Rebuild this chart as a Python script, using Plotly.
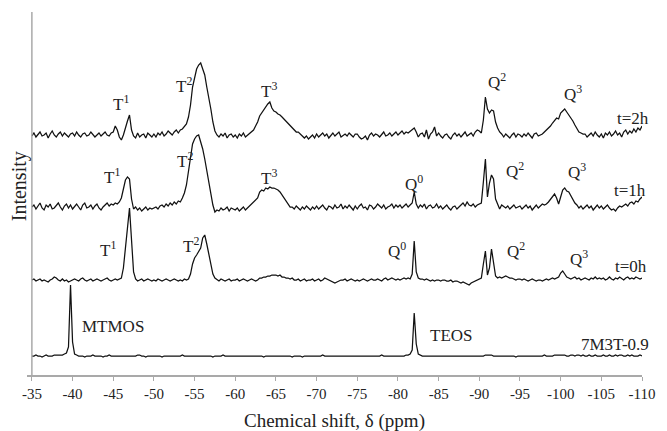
import numpy as np
import plotly.graph_objects as go

# Chemical shift grid (ppm): -35 to -110 in 0.25 ppm steps (301 points)
shift_start = -35.0
shift_step = -0.25

# Intensities above each spectrum's own baseline, 20 points (5 ppm) per row
ref_7m3t = [
    0, 0, 1, 0, 0, -1, 0, 1, 0, 0, 0, 1, 1, 1, 1, 1, 2, 3, 9, 71,
    14, 2, 1, 0, 0, 0, -1, 0, 0, 0, 1, 0, 0, 0, 0, -1, 0, 0, 1, 0,
    0, 0, 0, 0, 0, 0, 0, 0, 0, 0, 0, 0, 1, 1, 0, 0, -1, 0, 0, 0,
    0, 0, 0, 0, -1, 0, 0, 0, 0, 0, 0, 0, 0, 0, 1, 0, 0, 0, 0, 0,
    0, 0, 0, 0, 0, 0, 0, 0, 0, -1, 0, 0, 0, 0, 1, 0, 0, 0, 0, 0,
    0, 0, 0, 0, 0, 0, 0, 0, 0, 0, 0, 0, 0, 0, -1, 0, 0, 0, 0, 0,
    0, 0, 0, 0, 0, 0, 0, 0, -1, 0, 0, 0, 0, -1, 0, 0, 0, 0, 0, 0,
    0, 0, 0, 1, 0, 0, 0, 0, 0, 0, 0, 0, 0, 0, 0, 0, 0, 0, 0, 0,
    0, 0, 0, 0, 0, 0, 0, 0, 0, 0, 0, 0, 1, 0, 0, 0, 0, 0, 0, 0,
    0, 0, 0, 0, 1, 1, 2, 6, 43, 12, 2, 1, 0, 0, 0, 0, 0, 0, 0, 0,
    0, 0, 0, 0, 0, 0, 0, 0, 0, 0, 0, 0, 0, 0, 0, 0, 0, 0, 0, 0,
    0, 0, 0, 1, 1, 1, 1, 0, 0, 0, 0, 0, 0, 0, 0, 0, 0, 0, -1, 0,
    0, 0, 0, 0, 0, 0, 0, 0, 0, 0, 0, 0, 1, 0, 0, 0, 0, 1, 1, 1,
    1, 1, 1, 0, 0, 1, 1, 0, 1, 1, 0, 1, 0, 0, 1, 0, 0, 1, 0, 0,
    0, 1, 0, 0, 1, 0, 0, 1, 0, 1, 1, 0, 0, 1, 0, 1, 0, 0, 0, 1,
    0,
]

t_0h = [
    0, 1, -1, 0, 1, -1, 0, -1, -2, 0, 1, 3, 2, 0, -1, 1, -1, 0, -2, -1,
    0, 1, 0, -1, 1, 2, 0, -1, 0, 1, -1, 0, 1, 0, -1, 0, 1, 2, 0, -1,
    0, 1, 0, 1, 2, 12, 30, 50, 72, 40, 8, 1, -1, 0, 1, -1, 0, 1, 0, -1,
    0, -1, 1, 0, -1, 0, 1, 0, -1, 0, 1, 0, -1, 0, -1, 1, 0, 1, 6, 16,
    22, 25, 28, 32, 42, 45, 36, 26, 15, 6, 2, 0, -1, 1, 0, -1, 0, 1, -1, 0,
    0, 1, -1, 0, 1, 0, -1, 0, 1, 0, -1, 0, 2, 2, 3, 3, 4, 4, 5, 5,
    5, 4, 5, 3, 3, 2, 2, 1, 2, 0, 0, 1, -1, 0, 1, -1, 0, 0, 1, -1,
    0, 1, -1, 0, 2, 1, 0, -1, -2, -3, -2, -1, 0, 0, 1, -1, 0, 1, 0, -1,
    0, -1, 0, 1, 0, -1, 0, 1, 0, 0, 1, 0, -1, 1, 2, 0, 1, 2, 1, 0,
    1, 0, 1, 2, 1, 2, 1, 6, 39, 8, 2, 1, 1, 0, 1, 0, -1, 0, -1, 0,
    0, -1, 0, 0, -1, -1, 0, -2, -1, -1, -2, -3, -2, -3, -4, -5, -3, -2, -1, 0,
    1, 2, 16, 29, 5, 12, 31, 18, 4, 2, 3, 2, 3, 4, 3, 2, 2, 1, 0, 1,
    1, 0, 1, 0, -1, 0, 1, 0, -1, 0, 0, -1, 0, 1, 0, 1, 2, 1, 2, 3,
    7, 9, 6, 3, 2, 1, 2, 3, 1, 2, 0, 1, 2, 1, 0, 2, 1, 3, 1, 2,
    1, 2, 0, 1, 3, 1, 0, 2, 1, 3, 1, 0, 2, 3, 1, 2, 1, 3, 2, 1,
    2,
]

t_1h = [
    0, 2, -2, 1, 4, -1, -3, 2, 0, 3, -2, -1, 2, 4, 0, -3, 1, 3, -1, 2,
    -2, 1, 3, 0, -3, 2, 4, -1, 0, 2, -2, 1, 3, -1, -3, 0, 2, 4, 1, 3,
    2, 4, 3, 5, 9, 20, 27, 30, 28, 8, -2, 0, -3, -1, -4, -2, 0, -3, -1, -2,
    -1, 0, -2, 1, 2, 0, 3, 1, 4, 2, 5, 3, 6, 5, 9, 14, 22, 36, 52, 63,
    68, 71, 72, 66, 58, 48, 37, 24, 12, 2, -5, -3, -4, -1, -3, -2, 0, -4, -1, -2,
    -3, -1, -4, -2, 0, -3, -1, 1, 2, 5, 6, 9, 15, 17, 16, 19, 18, 20, 19, 19,
    18, 17, 15, 12, 9, 6, 3, 0, 0, -2, 1, -1, -3, 0, -2, 1, -1, -3, 0, -2,
    1, -2, 0, 2, -1, -3, 1, 0, -2, 2, -1, 0, 3, -2, 1, -1, 2, 0, -3, 1,
    -2, 1, 3, -1, 0, -3, 2, 1, -2, 0, 3, 1, -1, 2, -2, 0, 1, 3, -1, 2,
    0, 2, -1, 1, 3, 0, 2, 4, 15, 3, -1, 2, 0, 3, -2, 1, 2, -1, 0, 3,
    -1, 1, -2, 0, 2, -1, -3, 0, 1, -2, 0, 2, 4, 1, 5, 2, 1, 3, 0, 2,
    3, 4, 25, 48, 10, 24, 32, 28, 8, 2, -2, 2, 0, -1, 1, -2, 0, 2, -1, 0,
    1, -2, 0, 2, -1, 1, -3, 0, 2, -1, 1, 3, 2, 3, 5, 8, 10, 13, 9, 3,
    10, 17, 19, 16, 15, 11, 7, 4, 2, -1, 1, -2, 0, 2, -1, 1, -3, 0, 2, -1,
    1, -2, 0, 2, -1, -3, -2, -4, -1, 1, 0, 2, 3, 1, 4, 5, 3, 6, 5, 8,
    10,
]

t_2h = [
    -1, 2, -2, 1, 3, -1, 0, 2, -3, 1, 4, 0, -2, 1, 3, -1, 2, 0, -2, 1,
    2, -1, 3, 0, -2, 1, 2, -1, 0, 3, 1, -2, 0, 2, -1, 1, 3, 0, -1, 2,
    3, 9, 5, -2, -5, 0, 8, 14, 20, 5, -1, -3, 2, -2, 0, 1, -3, 2, 0, -2,
    1, -2, 2, 0, 3, -1, 1, 4, 2, 0, 3, 5, 2, 5, 6, 8, 11, 18, 30, 48,
    58, 66, 70, 72, 66, 60, 48, 38, 26, 13, 4, 0, -2, 1, -1, 2, -3, 0, 1, -2,
    0, -3, 1, -1, 2, -2, 0, 1, 3, 5, 9, 13, 19, 22, 26, 28, 31, 33, 27, 24,
    23, 21, 20, 18, 16, 14, 12, 9, 8, 6, 3, 3, 1, 0, -3, -1, -4, -2, 0, -3,
    1, -2, 0, 2, -1, 1, -3, 0, 2, -1, 1, 3, -2, 0, 1, -1, 2, 0, -2, 1,
    1, -2, -4, -3, -1, -5, 0, 2, -1, 1, 0, -2, 1, 3, -1, 0, 2, -1, 1, 3,
    0, 2, 4, 1, 3, 2, 4, 5, 7, 3, -2, 1, 2, -2, 5, -4, 1, 3, 8, -1,
    2, -1, -3, 0, 1, -2, -4, 0, 2, -1, 1, -2, 0, 3, -1, 1, 2, -1, 3, 5,
    4, 2, 15, 38, 26, 22, 25, 24, 13, 7, 3, 1, -2, 1, -1, -3, 0, 2, -2, 1,
    0, -2, 1, -1, 2, 0, -3, 1, 2, -1, 0, 1, 3, 5, 6, 9, 12, 14, 17, 16,
    22, 24, 26, 23, 20, 18, 14, 10, 6, 3, 2, 1, 1, -2, 0, 2, -1, 3, 0, -2,
    1, -3, 2, 0, 3, -1, 1, 4, 0, 2, -2, 3, 5, 1, 4, 2, 6, 3, 7, 5,
    9,
]

# Stacked spectra: name, intensities, vertical offset of the baseline
spectra = [
    ("7M3T-0.9", ref_7m3t, 19),
    ("t=0h", t_0h, 95),
    ("t=1h", t_1h, 168),
    ("t=2h", t_2h, 240),
]

# Peak labels: text, shift (ppm), height on the stacked scale
labels = [
    ("T<sup>1</sup>", -45.9, 272), ("T<sup>2</sup>", -53.7, 290),
    ("T<sup>3</sup>", -64.15, 285), ("Q<sup>2</sup>", -92.15, 294),
    ("Q<sup>3</sup>", -101.5, 282.5), ("t=2h", -108.9, 257),
    ("T<sup>1</sup>", -44.9, 199), ("T<sup>2</sup>", -53.8, 215),
    ("T<sup>3</sup>", -64.15, 198.5), ("Q<sup>0</sup>", -81.95, 192.5),
    ("Q<sup>2</sup>", -94.4, 205.5), ("Q<sup>3</sup>", -101.95, 204.5),
    ("t=1h", -108.5, 185),
    ("T<sup>1</sup>", -44.3, 126.5), ("T<sup>2</sup>", -54.6, 130),
    ("Q<sup>0</sup>", -79.85, 125.5), ("Q<sup>2</sup>", -94.5, 125),
    ("Q<sup>3</sup>", -102.3, 117.5), ("t=0h", -108.7, 108.5),
    ("MTMOS", -45.0, 49), ("TEOS", -86.6, 39.5), ("7M3T-0.9", -106.7, 31),
]

tick_vals = list(range(-35, -111, -5))
tick_text = [str(v) for v in tick_vals]

SERIF = "Liberation Serif, Times New Roman, serif"
AXIS_GREY = "#a9a9a9"

fig = go.Figure()
for name, vals, offset in spectra:
    vals = np.asarray(vals, dtype=float)
    shifts = shift_start + shift_step * np.arange(len(vals))
    fig.add_trace(go.Scatter(
        x=shifts, y=vals + offset, mode="lines", name=name,
        line=dict(color="#111111", width=1.25), hoverinfo="skip",
    ))

annotations = [
    dict(x=x, y=y, xref="x", yref="y", text=t, showarrow=False,
         xanchor="center", yanchor="middle",
         font=dict(family=SERIF, size=17, color="#222222"))
    for t, x, y in labels
]
annotations.append(dict(
    x=0.5, y=-0.126, xref="paper", yref="paper", showarrow=False,
    text="Chemical shift, δ (ppm)", xanchor="center", yanchor="middle",
    font=dict(family=SERIF, size=19, color="#222222")))
annotations.append(dict(
    x=-0.013, y=0.52, xref="paper", yref="paper", showarrow=False,
    text="Intensity", textangle=-90, xanchor="center", yanchor="middle",
    font=dict(family=SERIF, size=20, color="#222222")))

fig.update_layout(
    width=667, height=431,
    margin=dict(l=27, r=16, t=12, b=56),
    paper_bgcolor="white", plot_bgcolor="white",
    showlegend=False,
    annotations=annotations,
    shapes=[dict(type="line", xref="x", yref="paper", x0=-35, x1=-35,
                 y0=0, y1=1, line=dict(color=AXIS_GREY, width=1.5))],
    xaxis=dict(
        range=[-34.4, -110], tickmode="array", tickvals=tick_vals,
        ticktext=tick_text, ticks="outside", ticklen=4, tickwidth=1,
        tickcolor=AXIS_GREY, showline=True, linecolor=AXIS_GREY,
        linewidth=1.5, showgrid=False, zeroline=False,
        tickfont=dict(family=SERIF, size=15, color="#222222"),
    ),
    yaxis=dict(range=[0, 363], showticklabels=False, ticks="",
               showgrid=False, zeroline=False, showline=False),
)

fig.write_html("out.html")
